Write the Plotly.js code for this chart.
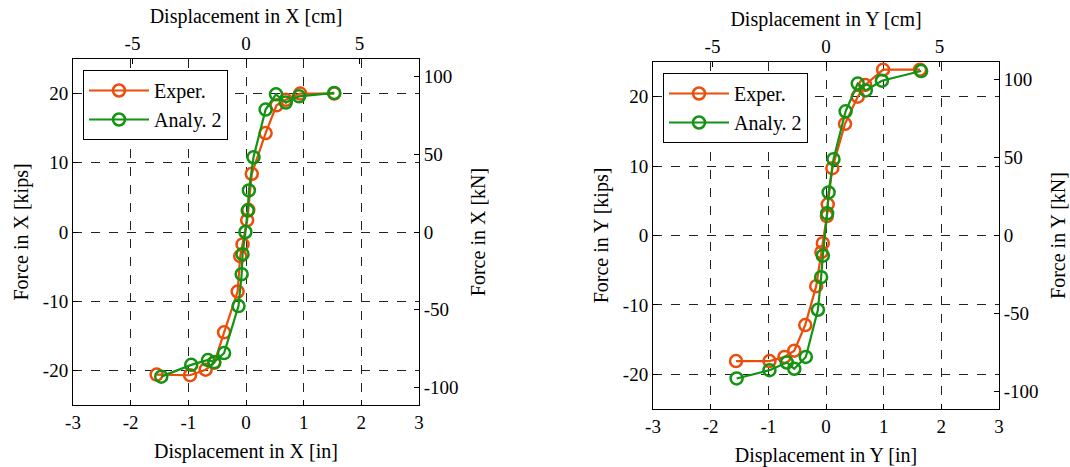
<!DOCTYPE html>
<html>
<head>
<meta charset="utf-8">
<script src="https://cdn.plot.ly/plotly-3.0.1.min.js"></script>
<style>html,body{margin:0;padding:0;background:#fff;}#chart{width:1070px;height:467px;}</style>
</head>
<body>
<div id="chart"></div>
<script>
// X direction
const xExpDisp = [-1.55, -0.97, -0.70, -0.55, -0.38, -0.145, -0.10, -0.06, 0.02, 0.04, 0.10, 0.34, 0.53, 0.69, 0.94, 1.53];
const xExpForce = [-20.6, -20.7, -19.9, -18.9, -14.5, -8.6, -3.5, -1.8, 1.7, 3.2, 8.4, 14.3, 18.3, 19.1, 20.0, 20.0];
const xAnaDisp = [-1.47, -0.95, -0.66, -0.55, -0.38, -0.13, -0.075, -0.06, -0.01, 0.03, 0.05, 0.13, 0.34, 0.52, 0.69, 0.92, 1.53];
const xAnaForce = [-20.9, -19.2, -18.5, -18.8, -17.5, -10.7, -6.1, -3.2, 0.0, 3.1, 6.0, 10.8, 17.7, 19.9, 18.7, 19.6, 20.1];
// Y direction
const yExpDisp = [-1.56, -0.98, -0.72, -0.55, -0.36, -0.17, -0.08, -0.055, 0.015, 0.03, 0.11, 0.33, 0.55, 0.68, 0.99, 1.63];
const yExpForce = [-18.1, -18.1, -17.5, -16.6, -12.9, -7.3, -2.4, -1.1, 2.8, 4.5, 9.7, 16.1, 20.0, 21.7, 23.9, 23.9];
const yAnaDisp = [-1.55, -0.98, -0.68, -0.55, -0.35, -0.14, -0.085, -0.055, 0.02, 0.045, 0.13, 0.34, 0.55, 0.69, 0.97, 1.65];
const yAnaForce = [-20.6, -19.4, -18.3, -19.2, -17.5, -10.7, -6.0, -2.9, 3.2, 6.2, 11.0, 17.9, 21.9, 20.9, 22.3, 23.7];

const seriesNames = ['Exper.', 'Analy. 2'];
const inTicks = [-3, -2, -1, 0, 1, 2, 3];
const inTickText = ['-3', '-2', '-1', '0', '1', '2', '3'];
const cmTicks = [-5, 0, 5];
const cmTickText = ['-5', '0', '5'];
const kipTicks = [-20, -10, 0, 10, 20];
const kipTickText = ['-20', '-10', '0', '10', '20'];
const kNTicks = [-100, -50, 0, 50, 100];
const kNTickText = ['-100', '-50', '0', '50', '100'];
const dispRange = [-3, 3];
const forceRange = [-25, 25];
const IN_TO_CM = 2.54;
const KIP_TO_KN = 4.448;

const ORANGE = '#EA4E0A';
const GREEN = '#129412';
const FONT = 'Liberation Serif, Times New Roman, serif';

function tr(x, y, name, color, xa, ya, legend, show) {
  return {
    x: x, y: y, name: name, type: 'scatter', mode: 'lines+markers',
    xaxis: xa, yaxis: ya, legend: legend, showlegend: show,
    line: {color: color, width: 2.2},
    marker: {symbol: 'circle-open', size: 12, color: color, line: {width: 2.5, color: color}}
  };
}
function ghost(xa, ya) {
  return {
    x: [dispRange[0] * IN_TO_CM, dispRange[1] * IN_TO_CM],
    y: [forceRange[0] * KIP_TO_KN, forceRange[1] * KIP_TO_KN],
    xaxis: xa, yaxis: ya, type: 'scatter', mode: 'markers',
    marker: {opacity: 0, size: 1}, showlegend: false, hoverinfo: 'skip'
  };
}

const data = [
  ghost('x2', 'y2'),
  ghost('x4', 'y4'),
  tr(xExpDisp, xExpForce, seriesNames[0], ORANGE, 'x', 'y', 'legend', true),
  tr(xAnaDisp, xAnaForce, seriesNames[1], GREEN, 'x', 'y', 'legend', true),
  tr(yExpDisp, yExpForce, seriesNames[0], ORANGE, 'x3', 'y3', 'legend2', true),
  tr(yAnaDisp, yAnaForce, seriesNames[1], GREEN, 'x3', 'y3', 'legend2', true)
];

const W = 1070, H = 467;
const tickFont = {family: FONT, size: 19, color: '#000'};
const titleFont = {family: FONT, size: 20, color: '#000'};

function baseAxis() {
  return {
    showline: true, linecolor: '#000', linewidth: 1, mirror: false,
    ticks: 'inside', ticklen: 5, tickcolor: '#000', tickwidth: 1,
    tickfont: tickFont, zeroline: false, fixedrange: true, tickmode: 'array'
  };
}

function bottomX(domain, label) {
  return Object.assign(baseAxis(), {
    domain: domain, range: dispRange, tickvals: inTicks, ticktext: inTickText,
    showgrid: true, gridcolor: '#222', griddash: 'dash', gridwidth: 1,
    title: {text: label, font: titleFont, standoff: 12}
  });
}
function topX(over, anchor, label) {
  return Object.assign(baseAxis(), {
    overlaying: over, anchor: anchor, side: 'top',
    range: [dispRange[0] * IN_TO_CM, dispRange[1] * IN_TO_CM],
    tickvals: cmTicks, ticktext: cmTickText, showgrid: false,
    title: {text: label, font: titleFont, standoff: 4}
  });
}
function leftY(domain, label) {
  return Object.assign(baseAxis(), {
    domain: domain, range: forceRange, tickvals: kipTicks, ticktext: kipTickText,
    showgrid: true, gridcolor: '#222', griddash: 'dash', gridwidth: 1,
    title: {text: label, font: titleFont, standoff: 8}
  });
}
function rightY(over, anchor, label) {
  return Object.assign(baseAxis(), {
    overlaying: over, anchor: anchor, side: 'right',
    range: [forceRange[0] * KIP_TO_KN, forceRange[1] * KIP_TO_KN],
    tickvals: kNTicks, ticktext: kNTickText, showgrid: false,
    title: {text: label, font: titleFont, standoff: 13}
  });
}

const d1x = [73 / W, 419 / W], d1y = [(H - 405) / H, (H - 59) / H];
const d2x = [653 / W, 999 / W], d2y = [(H - 409) / H, (H - 62) / H];

const legendBase = {
  xanchor: 'left', yanchor: 'top', bgcolor: '#fff', bordercolor: '#000', borderwidth: 1,
  font: {family: FONT, size: 20, color: '#000'}, itemwidth: 60, tracegroupgap: 0
};

const layout = {
  width: W, height: H,
  margin: {l: 0, r: 0, t: 0, b: 0},
  paper_bgcolor: '#fff', plot_bgcolor: '#fff',
  font: {family: FONT, color: '#000'},
  showlegend: true,
  xaxis: Object.assign(bottomX(d1x, 'Displacement in X [in]'), {anchor: 'y'}),
  xaxis2: topX('x', 'y', 'Displacement in X [cm]'),
  yaxis: Object.assign(leftY(d1y, 'Force in X [kips]'), {anchor: 'x'}),
  yaxis2: rightY('y', 'x', 'Force in X [kN]'),
  xaxis3: Object.assign(bottomX(d2x, 'Displacement in Y [in]'), {anchor: 'y3'}),
  xaxis4: topX('x3', 'y3', 'Displacement in Y [cm]'),
  yaxis3: Object.assign(leftY(d2y, 'Force in Y [kips]'), {anchor: 'x3'}),
  yaxis4: rightY('y3', 'x3', 'Force in Y [kN]'),
  legend: Object.assign({}, legendBase, {x: 83 / W, y: 1 - 70 / H}),
  legend2: Object.assign({}, legendBase, {x: 663 / W, y: 1 - 73 / H})
};

Plotly.newPlot('chart', data, layout, {displayModeBar: false, staticPlot: true});
</script>
</body>
</html>
